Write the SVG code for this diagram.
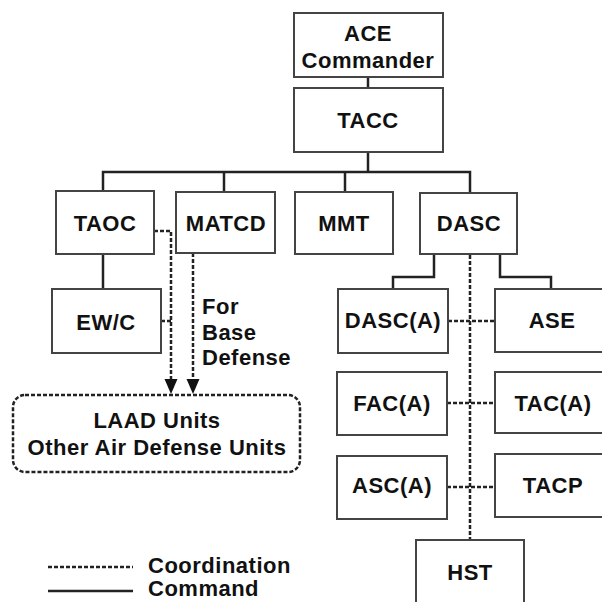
<svg xmlns="http://www.w3.org/2000/svg" width="602" height="602" viewBox="0 0 602 602">
<style>
.box{fill:#fff;stroke:#444;stroke-width:2}
.t{font-family:"Liberation Sans",Arial,sans-serif;font-weight:bold;font-size:22px;letter-spacing:0.5px;fill:#111;text-anchor:middle}
.tl{font-family:"Liberation Sans",Arial,sans-serif;font-weight:bold;font-size:22px;letter-spacing:0.5px;fill:#111}
.cmd{fill:none;stroke:#222;stroke-width:2.5}
.crd{fill:none;stroke:#222;stroke-width:2.5;stroke-dasharray:4 2}
.ah{fill:#111}
</style>
<rect width="602" height="602" fill="#fff"/>
<g id="connectors">
<path class="cmd" d="M368 77 V88"/>
<path class="cmd" d="M368 152 V172"/>
<path class="cmd" d="M103 192 V172 H470 V192"/>
<path class="cmd" d="M224 172 V192"/>
<path class="cmd" d="M345 172 V192"/>
<path class="cmd" d="M103 254 V289"/>
<path class="cmd" d="M434 254 V277 H393 V289"/>
<path class="cmd" d="M500 254 V277 H551 V289"/>
<path class="crd" d="M470 255 V540"/>
<path class="crd" d="M448 321 H495"/>
<path class="crd" d="M447 403 H495"/>
<path class="crd" d="M447 487 H495"/>
<path class="crd" d="M154 231 H171 V382"/>
<path class="crd" d="M161 321 H171"/>
<path class="crd" d="M193 253 V382"/>
<polygon class="ah" points="164.5,379 177.5,379 171,394"/>
<polygon class="ah" points="186.5,379 199.5,379 193,394"/>
</g>
<g id="ace"><rect class="box" x="294" y="13" width="149" height="64"/><text class="t" x="368" y="41">ACE</text><text class="t" x="368" y="68">Commander</text></g>
<g id="tacc"><rect class="box" x="294" y="88" width="149" height="64"/><text class="t" x="368" y="128">TACC</text></g>
<g id="taoc"><rect class="box" x="56" y="191" width="98" height="63"/><text class="t" x="105" y="231">TAOC</text></g>
<g id="matcd"><rect class="box" x="176" y="192" width="99" height="61"/><text class="t" x="226" y="231">MATCD</text></g>
<g id="mmt"><rect class="box" x="295" y="192" width="98" height="62"/><text class="t" x="344" y="231">MMT</text></g>
<g id="dasc"><rect class="box" x="420" y="193" width="97" height="61"/><text class="t" x="469" y="231">DASC</text></g>
<g id="ewc"><rect class="box" x="52" y="289" width="109" height="64"/><text class="t" x="106" y="330">EW/C</text></g>
<g id="dasca"><rect class="box" x="338" y="289" width="110" height="64"/><text class="t" x="393" y="328">DASC(A)</text></g>
<g id="ase"><rect class="box" x="495" y="289" width="112" height="63"/><text class="t" x="552" y="328">ASE</text></g>
<g id="faca"><rect class="box" x="337" y="372" width="110" height="63"/><text class="t" x="392" y="411">FAC(A)</text></g>
<g id="taca"><rect class="box" x="495" y="372" width="112" height="61"/><text class="t" x="553" y="411">TAC(A)</text></g>
<g id="asca"><rect class="box" x="337" y="456" width="110" height="63"/><text class="t" x="392" y="493">ASC(A)</text></g>
<g id="tacp"><rect class="box" x="495" y="454" width="112" height="63"/><text class="t" x="553" y="493">TACP</text></g>
<g id="hst"><rect class="box" x="416" y="540" width="108" height="70"/><text class="t" x="470" y="580">HST</text></g>
<g id="laad"><rect x="13" y="395" width="287" height="77" rx="12" fill="#fff" stroke="#222" stroke-width="2.5" stroke-dasharray="4 2"/><text class="t" x="157" y="428">LAAD Units</text><text class="t" x="157" y="455">Other Air Defense Units</text></g>
<g id="label-base"><text class="tl" x="202" y="314">For</text><text class="tl" x="202" y="340">Base</text><text class="tl" x="202" y="365">Defense</text></g>
<g id="legend">
<path class="crd" d="M48 567 H133"/>
<path class="cmd" d="M48 591 H133"/>
<text class="tl" x="148" y="573">Coordination</text>
<text class="tl" x="148" y="596">Command</text>
</g>
</svg>
